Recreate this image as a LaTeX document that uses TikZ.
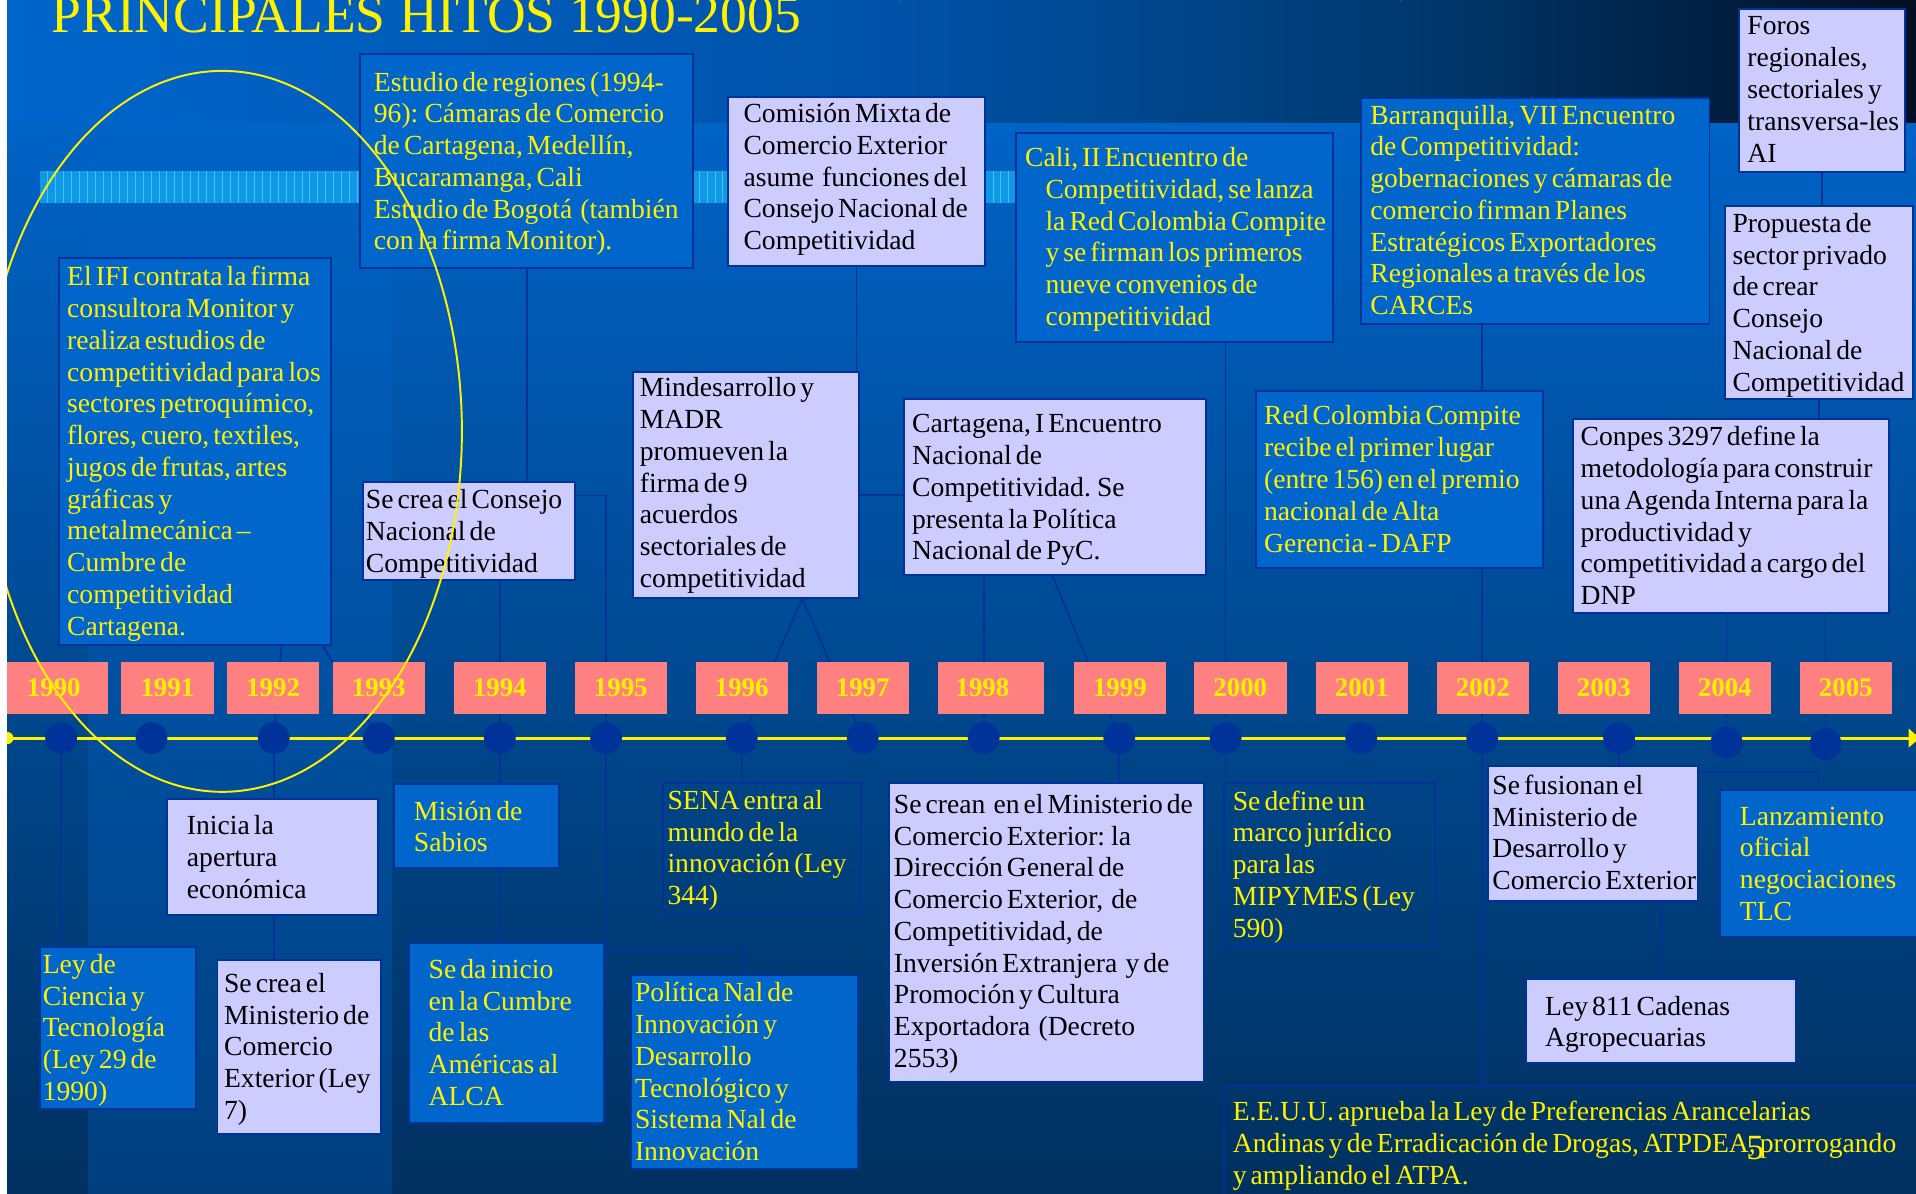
\documentclass[tikz,border=0pt]{standalone}
\usepackage{fontspec}
\setmainfont{Liberation Serif}
\usetikzlibrary{calc,arrows.meta}

\definecolor{boxblue}{HTML}{0066CC}
\definecolor{lav}{HTML}{CCCCFF}
\definecolor{edge}{HTML}{003399}
\definecolor{salmon}{HTML}{FF8080}
\definecolor{dotblue}{HTML}{003399}
\definecolor{bgtop}{HTML}{0063C6}
\definecolor{bgmid}{HTML}{004A94}
\definecolor{bgbot}{HTML}{00305F}
\definecolor{bandbot}{HTML}{003F7F}
\definecolor{tbA}{HTML}{0066CC}
\definecolor{tbB}{HTML}{0052A8}
\definecolor{tbC}{HTML}{003A70}
\definecolor{tbD}{HTML}{000E22}
\definecolor{stripe}{HTML}{0D99E5}
\definecolor{stripeline}{HTML}{4DBBF5}

\pgfdeclarelayer{bg}
\pgfdeclarelayer{links}
\pgfsetlayers{bg,links,main}

\tikzset{
  lavbox/.style={draw=edge, line width=1.6pt, fill=lav, text=black},
  bluebox/.style={draw=edge, line width=1.6pt, fill=boxblue, text=yellow},
  openbox/.style={draw=edge, line width=1.6pt, text=yellow},
  yearbox/.style={fill=salmon, text=yellow, font=\fontsize{22}{26}\selectfont\bfseries,
    minimum height=42pt, inner sep=0pt, outer sep=0pt, anchor=north west},
  yeardot/.style={circle, fill=dotblue, minimum size=26pt, inner sep=0pt},
  conn/.style={draw=edge, line width=1.4pt},
}

% event box: style, name, x, y, width, height, left padding, first baseline offset, text
\newcommand\evbox[9]{%
  \pgfmathsetmacro\evtw{#5-2*#7}%
  \pgfmathsetmacro\evdp{#6-#8}%
  \node[#1, anchor=north west, inner xsep=#7pt, inner ysep=0pt, outer sep=0pt,
        text width=\evtw pt, text height=#8pt, text depth=\evdp pt]
        (#2) at (#3,#4) {\fontsize{22.6}{26}\selectfont\rightskip=-30pt plus 1fil\relax #9\par};}
\newcommand\calind{\hspace*{16.6pt}}

\begin{document}
\begin{tikzpicture}[x=1pt, y=-1pt]
\useasboundingbox (0,0) rectangle (1568,977);

% ---- background ----
\begin{pgfonlayer}{bg}
  \shade[top color=bgtop, middle color=bgmid, bottom color=bgbot] (0,100) rectangle (1568,977);
  \shade[top color=bgtop, bottom color=bandbot] (72,100) rectangle (321,977);
  \shade[left color=tbA, right color=tbB] (0,0) rectangle (737,100);
  \shade[left color=tbB, right color=tbC] (737,0) rectangle (1146,100);
  \shade[left color=tbC, right color=tbD] (1146,0) rectangle (1568,100);
  \fill[stripe] (33,140) rectangle (831,166);
  \draw[stripeline, line width=0.5pt, xstep=6.5, ystep=6.5] (33,140) grid (831,166);
\end{pgfonlayer}

% ---- title ----
\node[anchor=base west, inner sep=0pt, text=yellow, font=\fontsize{43.8}{48}\selectfont]
  (title) at (42,26.5) {PRINCIPALES HITOS 1990-2005};

% ---- timeline dots ----
\foreach \yr/\px/\py in {1990/50/604, 1991/124/604, 1992/224/604, 1993/310/604,
    1994/409/604, 1995/496/604, 1996/607/604, 1997/706/604, 1998/805/604,
    1999/916/604, 2000/1003/604, 2001/1114/604, 2002/1213/604, 2003/1325/604,
    2004/1413/607.5, 2005/1494/609}
  \node[yeardot] (c\yr) at (\px,\py) {};

% ---- year labels ----
\foreach \yr/\px/\w in {1990/0/88, 1991/99/76, 1992/186/75, 1993/272.5/75,
    1994/371.5/75, 1995/470.5/75, 1996/569.5/75, 1997/668.5/75, 1999/879/75,
    2000/977/76, 2001/1077/75, 2002/1176/75, 2003/1275/75, 2004/1374/75, 2005/1473/75}
  \node[yearbox, minimum width=\w pt] (yr\yr) at (\px,542) {\yr};
\node[yearbox, text width=58pt, inner xsep=14pt] (yr1998) at (768,542) {1998};

% ---- events above the line ----
\evbox{bluebox}{estudio}{295}{44.5}{272}{174.5}{11}{30}{Estudio de regiones (1994-\\96): Cámaras de Comercio\\de Cartagena, Medellín,\\Bucaramanga, Cali\\Estudio de Bogotá~ (también\\con la firma Monitor).}
\evbox{lavbox}{comision}{596}{79}{210}{139}{12.5}{21.4}{Comisión Mixta de\\Comercio Exterior\\asume~ funciones del\\Consejo Nacional de\\Competitividad}
\evbox{bluebox}{cali}{831.5}{108.6}{259}{171}{7.5}{27.8}{Cali, II Encuentro de\\\calind Competitividad, se lanza\\\calind la Red Colombia Compite\\\calind y se firman los primeros\\\calind nueve convenios de\\\calind competitividad}
\evbox{bluebox}{barranq}{1114}{80}{285}{185}{7.5}{21.5}{Barranquilla, VII Encuentro\\de Competitividad:\\gobernaciones y cámaras de\\comercio firman Planes\\Estratégicos Exportadores\\Regionales a través de los\\CARCEs}
\evbox{lavbox}{foros}{1423.5}{7.6}{135.5}{133}{6.5}{21}{Foros\\regionales,\\sectoriales y\\transversa-les\\AI}
\evbox{lavbox}{propuesta}{1411.4}{168.3}{154}{158.5}{6.5}{21.8}{Propuesta de\\sector privado\\de crear\\Consejo\\Nacional de\\Competitividad}
\evbox{bluebox}{ifi}{48}{211}{222.5}{317}{7}{22.8}{El IFI contrata la firma\\consultora Monitor y\\realiza estudios de\\competitividad para los\\sectores petroquímico,\\flores, cuero, textiles,\\jugos de frutas, artes\\gráficas y\\metalmecánica –\\Cumbre de\\competitividad\\Cartagena.}
\evbox{lavbox}{consejo}{297}{394.5}{173.5}{80.5}{2.5}{21.8}{Se crea el Consejo\\Nacional de\\Competitividad}
\evbox{lavbox}{mindes}{517.7}{304.7}{185}{185}{6}{20}{Mindesarrollo y\\MADR\\promueven la\\firma de 9\\acuerdos\\sectoriales de\\competitividad}
\evbox{lavbox}{cartagena}{740}{326.5}{247}{144}{6.5}{27.6}{Cartagena, I Encuentro\\Nacional de\\Competitividad. Se\\presenta la Política\\Nacional de PyC.}
\evbox{bluebox}{redcol}{1028}{320}{234.5}{144.5}{6.5}{27.8}{Red Colombia Compite\\recibe el primer lugar\\(entre 156) en el premio\\nacional de Alta\\Gerencia - DAFP}
\evbox{lavbox}{conpes}{1287}{343}{259}{158.5}{6.6}{21.8}{Conpes 3297 define la\\metodología para construir\\una Agenda Interna para la\\productividad y\\competitividad a cargo del\\DNP}

% ---- events below the line ----
\evbox{lavbox}{inicia}{137}{654}{172}{95}{16}{29.2}{Inicia la\\apertura\\económica}
\evbox{bluebox}{leyct}{33}{775.3}{127.4}{132.3}{2}{21.3}{Ley de\\Ciencia y\\Tecnología\\(Ley 29 de\\1990)}
\evbox{lavbox}{mincomex}{178}{785.7}{134}{142.6}{5.4}{26.4}{Se crea el\\Ministerio de\\Comercio\\Exterior (Ley\\7)}
\evbox{bluebox}{mision}{322.3}{641.6}{135.2}{69}{16.5}{29.5}{Misión de\\Sabios}
\evbox{bluebox}{alca}{334.8}{772}{159.4}{147.3}{16}{28.7}{Se da inicio\\en la Cumbre\\de las\\Américas al\\ALCA}
\evbox{openbox}{sena}{542.7}{640.5}{162}{107.8}{3.6}{21.9}{SENA entra al\\mundo de la\\innovación (Ley\\344)}
\evbox{bluebox}{politica}{516}{798}{186}{159}{3.7}{21.8}{Política Nal de\\Innovación y\\Desarrollo\\Tecnológico y\\Sistema Nal de\\Innovación}
\evbox{lavbox}{secrean}{727.6}{641}{258}{244.2}{4}{24.6}{Se crean~ en el Ministerio de\\Comercio Exterior: la\\Dirección General de\\Comercio Exterior,~ de\\Competitividad, de\\Inversión Extranjera~ y de\\Promoción y Cultura\\Exportadora~ (Decreto\\2553)}
\evbox{openbox}{sedefine}{1001.4}{640.5}{173}{133.5}{7.5}{22.4}{Se define un\\marco jurídico\\para las\\MIPYMES (Ley\\590)}
\evbox{lavbox}{fusion}{1217.4}{626.6}{172.3}{110.8}{4}{23.4}{Se fusionan el\\Ministerio de\\Desarrollo y\\Comercio Exterior}
\evbox{bluebox}{tlc}{1407.3}{646.5}{162}{120}{16.6}{28.7}{Lanzamiento\\oficial\\negociaciones\\TLC}
\evbox{lavbox}{ley811}{1248.5}{801.5}{221.5}{68.7}{16}{29.2}{Ley 811 Cadenas\\Agropecuarias}
\evbox{openbox}{eeuu}{1001.4}{888.8}{580}{100}{7.5}{28.4}{E.E.U.U. aprueba la Ley de Preferencias Arancelarias\\Andinas y de Erradicación de Drogas, ATPDEA, prorrogando\\y ampliando el ATPA.}

% ---- timeline and connectors ----
\coordinate (tlstart) at (6,604);
\coordinate (tlend) at (1571,604);
\coordinate (apex) at ($(mindes.south west)!0.75!(mindes.south east)$);
\begin{pgfonlayer}{links}
  \draw[yellow, line width=2.5pt, -{Triangle[length=9pt,width=15pt]}] (tlstart) -- (tlend);
  \fill[yellow] (tlstart) circle (5pt);
  % above
  \draw[conn] (estudio.south) -- ++(0,186.5) -| (c1995.center);
  \draw[conn] (consejo.south -| c1994) -- (c1994.center);
  \draw[conn] ($(ifi.south west)!0.82!(ifi.south east)$) -- (c1992.center);
  \draw[conn] ($(ifi.south west)!0.97!(ifi.south east)$) -- (c1993.center);
  \draw[conn] (c1996.center) -- (apex) -- (c1997.center);
  \draw[conn] (comision.south) -- (comision.south |- mindes.north);
  \draw[conn] ([yshift=-8pt]mindes.east) -- ([yshift=-8pt]mindes.east -| cartagena.west);
  \draw[conn] (cartagena.south -| c1998) -- (c1998.center);
  \draw[conn] ($(cartagena.south west)!0.49!(cartagena.south east)$) -- (c1999.center);
  \draw[conn] (cali.south -| c2000) -- (c2000.center);
  \draw[conn] (barranq.south -| c2002) -- (redcol.north -| c2002);
  \draw[conn] (redcol.south -| c2002) -- (c2002.center);
  \draw[conn] (foros.south) -- (foros.south |- propuesta.north);
  \draw[conn] (propuesta.south) -- (propuesta.south |- conpes.north);
  \draw[conn] (conpes.south -| c2004) -- (c2004.center);
  \draw[conn] (conpes.south -| c2005) -- (c2005.center);
  % below
  \draw[conn] (c1990.center) -- (c1990 |- leyct.north);
  \draw[conn] (c1992.center) -- (c1992 |- inicia.north);
  \draw[conn] (inicia.south -| c1992) -- (mincomex.north -| c1992);
  \draw[conn] (c1994.center) -- (c1994 |- mision.north);
  \draw[conn] (mision.south -| c1994) -- (alca.north -| c1994);
  \draw[conn] (c1995.center) -- ++(0,173.5) -| (politica.north);
  \draw[conn] (c1996.center) -- (c1996 |- sena.north);
  \draw[conn] (c1999.center) -- (c1999 |- secrean.north);
  \draw[conn] (c2000.center) -- (c2000 |- sedefine.north);
  \draw[conn] (c2002.center) -- (c2002 |- eeuu.north);
  \draw[conn] (c2003.center) -- (c2003 |- fusion.north);
  \draw[conn] (ley811.north) -- (ley811.north |- fusion.south);
  \draw[conn] ([yshift=-5pt]fusion.north east) -| (tlc.north);
\end{pgfonlayer}

% ---- highlight ring round the early years ----
\coordinate (ringc) at (182,353);
\draw[yellow, line width=1.6pt] (ringc) ellipse [x radius=196pt, y radius=295pt];

% ---- slide number ----
\node[anchor=base west, inner sep=0pt, text=yellow, font=\fontsize{29}{30}\selectfont]
  (pagenum) at (1429,949) {5};

% ---- left margin ----
\fill[white] (0,0) rectangle (5.8,977);
\end{tikzpicture}
\end{document}
